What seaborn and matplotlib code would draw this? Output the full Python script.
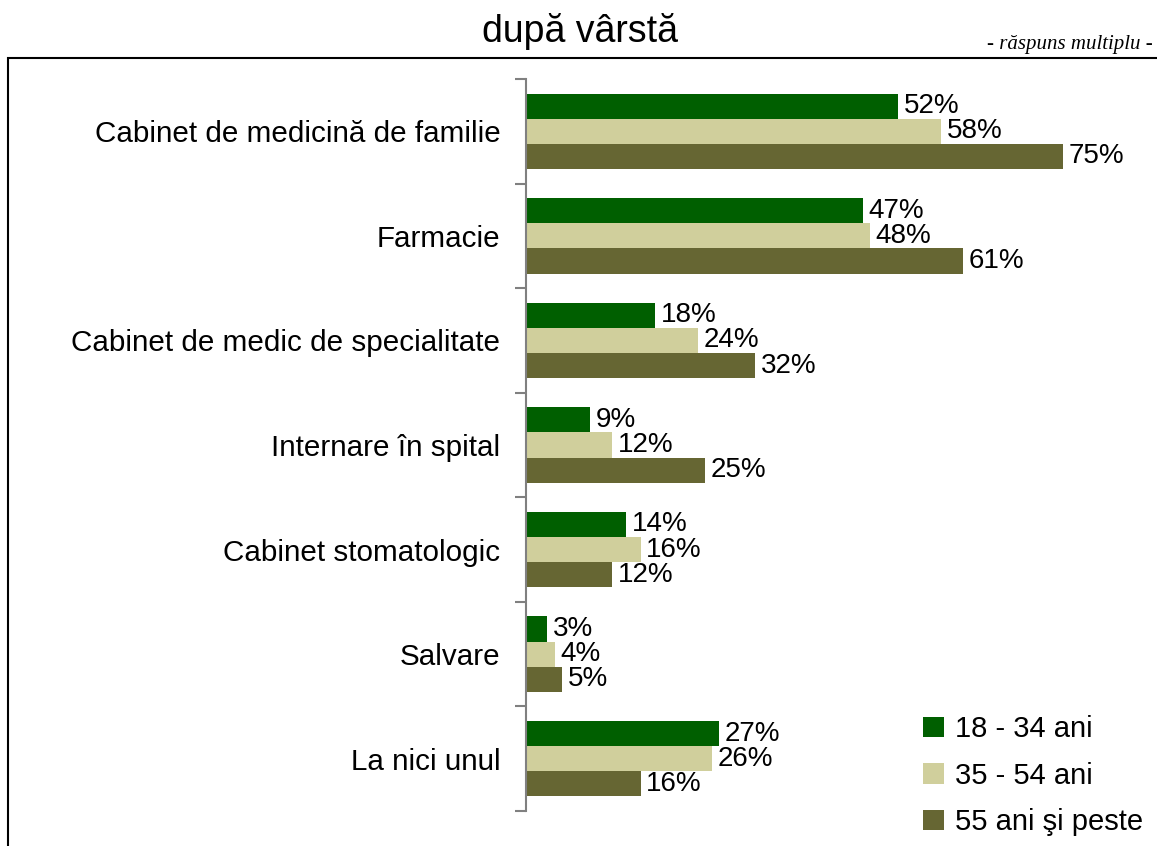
import pandas as pd
import matplotlib.pyplot as plt
import seaborn as sns
from matplotlib.patches import Rectangle

# date
categorii = ['Cabinet de medicină de familie', 'Farmacie', 'Cabinet de medic de specialitate',
             'Internare în spital', 'Cabinet stomatologic', 'Salvare', 'La nici unul']
grupe = ['18 - 34 ani', '35 - 54 ani', '55 ani şi peste']
v_18_34 = [52, 47, 18, 9, 14, 3, 27]
v_35_54 = [58, 48, 24, 12, 16, 4, 26]
v_55 = [75, 61, 32, 25, 12, 5, 16]
culori = ['#005F00', '#D0CF9C', '#666633']

df = pd.DataFrame({
    'categorie': categorii * 3,
    'grupa': [g for g in grupe for _ in categorii],
    'valoare': v_18_34 + v_35_54 + v_55,
})

sns.set_style('white', {'ytick.left': True})
plt.rcParams['font.family'] = ['Liberation Sans', 'DejaVu Sans']
plt.rcParams['text.color'] = 'black'
plt.rcParams['ytick.labelcolor'] = 'black'

fig = plt.figure(figsize=(11.57, 8.46), dpi=100)
ax = fig.add_axes([526 / 1157, 35 / 846, 1 - 526 / 1157, (811 - 79) / 846])

sns.barplot(data=df, y='categorie', x='valoare', hue='grupa', order=categorii,
            hue_order=grupe, palette=culori, width=0.72, orient='h', ax=ax,
            saturation=1, errorbar=None, linewidth=0)

for cont in ax.containers:
    ax.bar_label(cont, labels=[f'{int(v)}%' for v in cont.datavalues],
                 padding=4, fontsize=20, color='black')

ax.set_xlim(0, (1157 - 527) / 7.15)
ax.set_ylim(6.5, -0.5)
ax.set_xlabel('')
ax.set_ylabel('')
ax.set_xticks([])
for s in ['top', 'right', 'bottom']:
    ax.spines[s].set_visible(False)
ax.spines['left'].set_color('#808080')
ax.spines['left'].set_linewidth(1.5)

ax.set_yticks(range(len(categorii)))
ax.set_yticklabels(categorii, fontsize=21.3)
ax.tick_params(axis='y', which='major', length=0, pad=18.5)
ax.set_yticks([i - 0.5 for i in range(len(categorii) + 1)], minor=True)
ax.tick_params(axis='y', which='minor', left=True, length=8, width=1.5,
               color='#808080', direction='out')

leg = ax.legend(loc='lower right', bbox_to_anchor=(1.02, -0.07), frameon=False,
                fontsize=21, handlelength=0.7, handleheight=0.7, handletextpad=0.4,
                labelspacing=0.63)

fig.text(580 / 1157, 1 - 32 / 846, 'după vârstă', fontsize=27, ha='center', va='center')
fig.text(1153 / 1157, 1 - 45 / 846, '- răspuns multiplu -', fontsize=15, style='italic',
         family=['Liberation Serif'], ha='right', va='center')

fig.patches.append(Rectangle((7.5 / 1157, -0.1), 1.2, 1.1 - 58 / 846,
                             transform=fig.transFigure, fill=False,
                             edgecolor='black', linewidth=1.5))

fig.savefig('out.png', dpi=100)
